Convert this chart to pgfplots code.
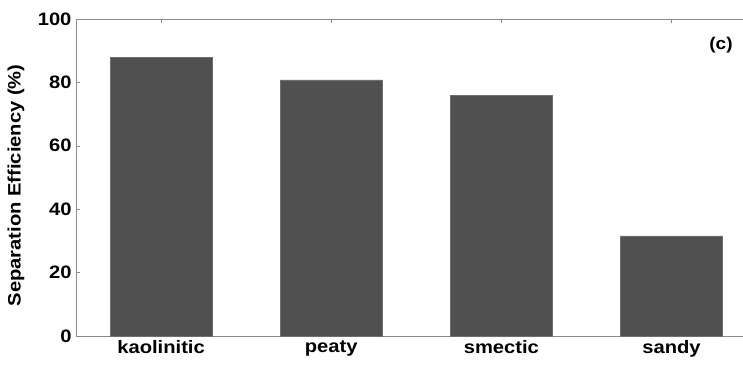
\documentclass[border=0pt]{standalone}
\usepackage{fontspec}
\setmainfont{Liberation Sans}[FakeStretch=1.12]
\usepackage{pgfplots}
\pgfplotsset{compat=1.18}
\definecolor{barfill}{RGB}{80,80,80}
\definecolor{baredge}{RGB}{110,110,110}
\definecolor{axgray}{RGB}{140,140,140}
\begin{document}
\begin{tikzpicture}
\path[use as bounding box] (0,0) rectangle (743pt,365pt);
\begin{axis}[
  at={(76pt,29pt)}, anchor=south west,
  scale only axis, width=667pt, height=317pt,
  xmin=0.5, xmax=4.42, ymin=0, ymax=100,
  axis x line*=box, axis y line*=left,
  axis line style={axgray, line width=0.8pt},
  xtick={1,2,3,4},
  xticklabels={kaolinitic,peaty,smectic,sandy},
  ytick={0,20,40,60,80,100},
  tick align=inside,
  major tick length=4pt,
  tick style={axgray, line width=0.6pt},
  /pgf/number format/assume math mode=true,
  ticklabel style={font=\fontsize{18}{21}\selectfont\bfseries},
  yticklabel style={xshift=-1pt},
  xticklabel style={yshift=-1pt},
  ylabel={Separation Efficiency (\%)},
  ylabel style={font=\fontsize{18}{21}\selectfont\bfseries, at={(axis description cs:-0.09,0.475)}, anchor=center},
  clip=false,
]
\addplot[ybar, bar width=0.6, fill=barfill, draw=baredge, line width=0.5pt] coordinates {
  (1,87.9) (2,80.8) (3,75.9) (4,31.6)
};
\node[font=\fontsize{17}{20}\selectfont\bfseries] at (axis description cs:0.967,0.918) {(c)};
\end{axis}
\end{tikzpicture}
\end{document}
